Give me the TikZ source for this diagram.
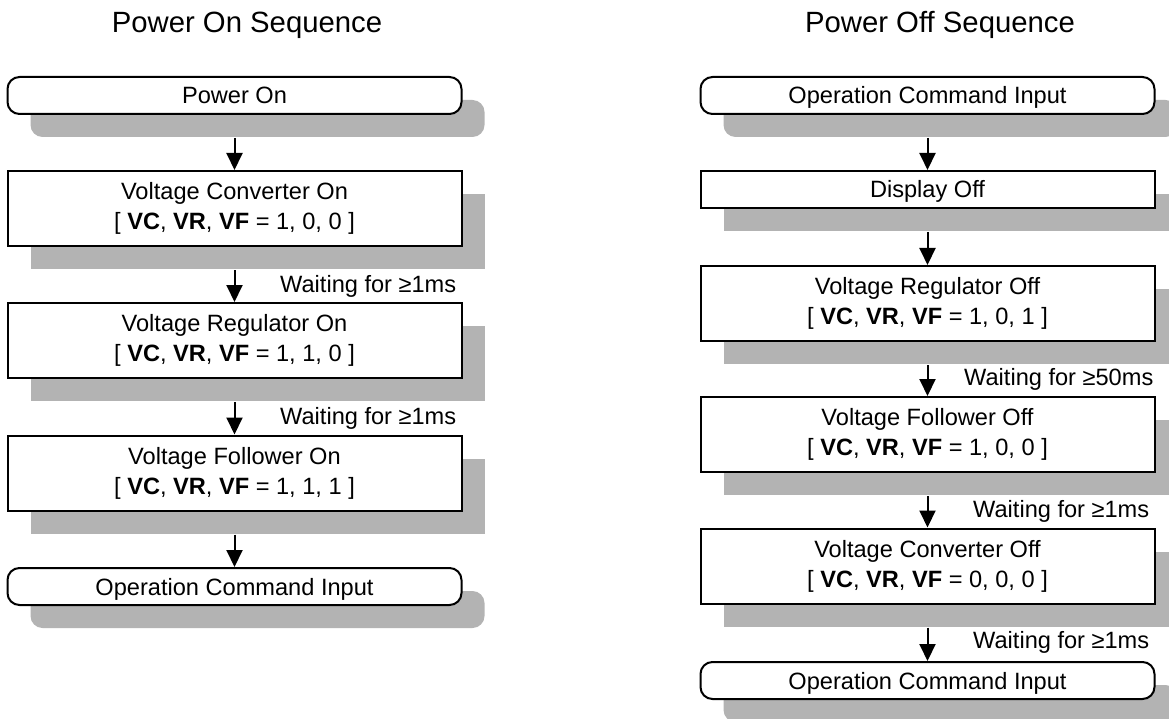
\documentclass[tikz,border=0pt]{standalone}
\usepackage{fontspec}
\setmainfont{Liberation Sans}
\usetikzlibrary{arrows.meta,shadows}
\definecolor{shadegray}{RGB}{179,179,179}
\newcommand\mybodyfont{\fontsize{23.6}{30}\selectfont}
\newcommand\mytitlefont{\fontsize{29.3}{34}\selectfont}
\tikzset{
  basebox/.style={draw=black, line width=2pt, fill=white, minimum width=454pt,
    align=center, font=\mybodyfont, inner sep=0pt,
    drop shadow={shadow xshift=23pt, shadow yshift=-23pt, fill=shadegray, opacity=1}},
  stepbox/.style={basebox, minimum height=75pt, execute at begin node={\rule{0pt}{25pt}}},
  shortbox/.style={basebox, minimum height=37pt, text height=20pt, text depth=3pt},
  termbox/.style={shortbox, rounded corners=12pt},
  arr/.style={line width=2pt, -{Triangle[length=17pt,width=16pt]}},
  waitlbl/.style={anchor=base west, font=\mybodyfont, inner sep=0pt},
  titlelbl/.style={anchor=base, font=\mytitlefont, inner sep=0pt}
}
\begin{document}
\begin{tikzpicture}[x=1pt,y=-1pt]
\useasboundingbox (0,0) rectangle (1169,719);
\clip (0,0) rectangle (1169,719);
% titles
\node[titlelbl] (t1) at (247,33) {Power On Sequence};
\node[titlelbl] (t2) at (940,33) {Power Off Sequence};
% left column
\node[termbox] (l0) at (234.5,95.5) {Power On};
\node[stepbox] (l1) at (234.5,208.5) {Voltage Converter On\\{}[ \textbf{VC}, \textbf{VR}, \textbf{VF} = 1, 0, 0 ]};
\node[stepbox] (l2) at (234.5,340.5) {Voltage Regulator On\\{}[ \textbf{VC}, \textbf{VR}, \textbf{VF} = 1, 1, 0 ]};
\node[stepbox] (l3) at (234.5,473) {Voltage Follower On\\{}[ \textbf{VC}, \textbf{VR}, \textbf{VF} = 1, 1, 1 ]};
\node[termbox] (l4) at (234.5,586.5) {Operation Command Input};
\draw[arr] ([yshift=-23pt]l0.south) -- (l1.north);
\draw[arr] ([yshift=-23pt]l1.south) -- (l2.north);
\draw[arr] ([yshift=-23pt]l2.south) -- (l3.north);
\draw[arr] ([yshift=-23pt]l3.south) -- (l4.north);
\node[waitlbl] (w1) at (280,292) {Waiting for ≥1ms};
\node[waitlbl] (w2) at (280,424) {Waiting for ≥1ms};
% right column
\node[termbox] (r0) at (927.5,95.5) {Operation Command Input};
\node[shortbox] (r1) at (927.5,189.5) {Display Off};
\node[stepbox] (r2) at (927.5,303.5) {Voltage Regulator Off\\{}[ \textbf{VC}, \textbf{VR}, \textbf{VF} = 1, 0, 1 ]};
\node[stepbox] (r3) at (927.5,434.5) {Voltage Follower Off\\{}[ \textbf{VC}, \textbf{VR}, \textbf{VF} = 1, 0, 0 ]};
\node[stepbox] (r4) at (927.5,566) {Voltage Converter Off\\{}[ \textbf{VC}, \textbf{VR}, \textbf{VF} = 0, 0, 0 ]};
\node[termbox] (r5) at (927.5,680.5) {Operation Command Input};
\draw[arr] ([yshift=-23pt]r0.south) -- (r1.north);
\draw[arr] ([yshift=-23pt]r1.south) -- (r2.north);
\draw[arr] ([yshift=-23pt]r2.south) -- (r3.north);
\draw[arr] ([yshift=-23pt]r3.south) -- (r4.north);
\draw[arr] ([yshift=-23pt]r4.south) -- (r5.north);
\node[waitlbl] (w3) at (964,385) {Waiting for ≥50ms};
\node[waitlbl] (w4) at (973,517) {Waiting for ≥1ms};
\node[waitlbl] (w5) at (973,648) {Waiting for ≥1ms};
\end{tikzpicture}
\end{document}
